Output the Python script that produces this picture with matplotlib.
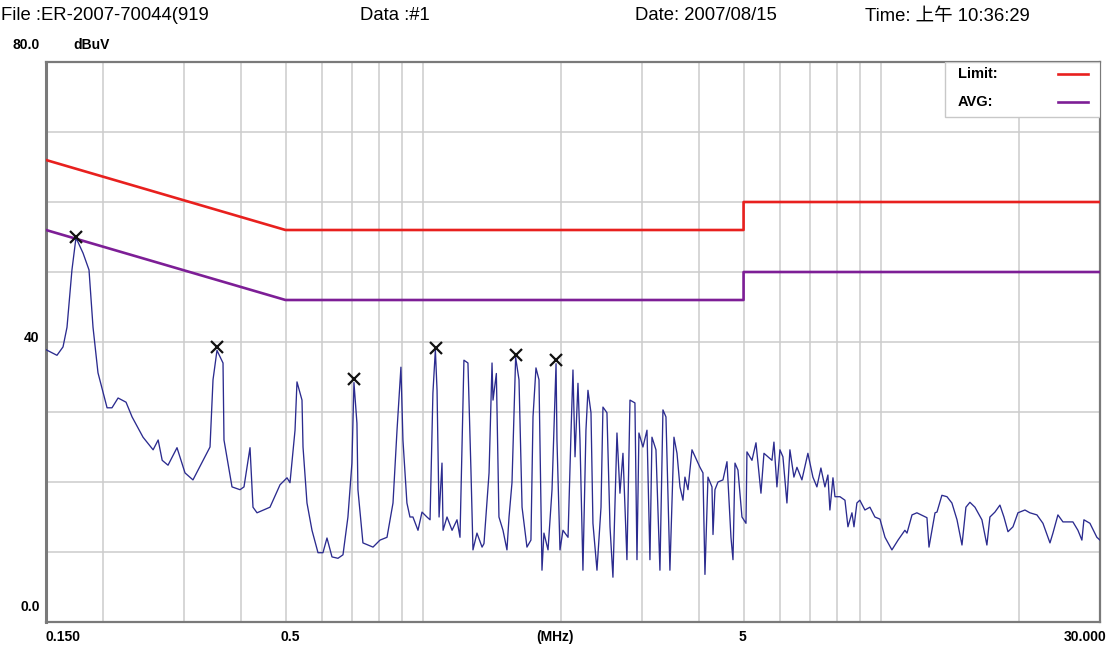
import matplotlib
matplotlib.use("Agg")
import matplotlib.pyplot as plt
from matplotlib.patches import Rectangle

# ---- data ----
limit_freq = [0.15, 0.5, 5.0, 5.0, 30.0]
limit_qp = [66, 56, 56, 60, 60]
limit_avg = [56, 46, 46, 50, 50]

trace_freq = [
    0.150, 0.1585, 0.1634, 0.1667, 0.1709, 0.1744, 0.1807, 0.1862, 0.1900, 0.1948,
    0.2039, 0.2090, 0.2155, 0.2243, 0.2312, 0.2443, 0.2570, 0.2636, 0.2690, 0.2770,
    0.2898, 0.3017, 0.3140, 0.3336, 0.3421, 0.3473, 0.3543, 0.3652, 0.3670, 0.3821,
    0.3978, 0.4058, 0.4183, 0.4246, 0.4333, 0.4625, 0.4864, 0.5038, 0.5114, 0.5245,
    0.5297, 0.5432, 0.5460, 0.5570, 0.5712, 0.5887, 0.6036, 0.6159, 0.6316, 0.6509,
    0.6675, 0.6843, 0.6982, 0.7053, 0.7160, 0.7196, 0.7379, 0.7762, 0.8040, 0.8328,
    0.8583, 0.8758, 0.8932, 0.9023, 0.9205, 0.9346, 0.9488, 0.9732, 0.9930, 1.018,
    1.034, 1.049, 1.062, 1.071, 1.082, 1.098, 1.104, 1.126, 1.155, 1.184,
    1.202, 1.226, 1.251, 1.270, 1.283, 1.309, 1.343, 1.356, 1.391, 1.412,
    1.419, 1.443, 1.462, 1.492, 1.522, 1.538, 1.561, 1.590, 1.617, 1.642,
    1.683, 1.717, 1.735, 1.761, 1.788, 1.815, 1.833, 1.871, 1.909, 1.948,
    1.957, 1.987, 2.017, 2.069, 2.100, 2.121, 2.143, 2.175, 2.197, 2.230,
    2.264, 2.287, 2.322, 2.345, 2.393, 2.442, 2.466, 2.516, 2.555, 2.593,
    2.646, 2.686, 2.727, 2.782, 2.825, 2.896, 2.926, 2.955, 3.015, 3.077,
    3.123, 3.155, 3.219, 3.284, 3.334, 3.385, 3.453, 3.524, 3.578, 3.632,
    3.687, 3.724, 3.781, 3.858, 3.976, 4.016, 4.077, 4.118, 4.181, 4.266,
    4.288, 4.330, 4.397, 4.508, 4.600, 4.693, 4.741, 4.789, 4.861, 4.960,
    5.061, 5.086, 5.216, 5.322, 5.457, 5.540, 5.652, 5.767, 5.825, 5.913,
    6.003, 6.094, 6.218, 6.312, 6.440, 6.539, 6.704, 6.909, 7.085, 7.229,
    7.376, 7.526, 7.640, 7.717, 7.837, 7.916, 8.117, 8.324, 8.450, 8.622,
    8.710, 8.839, 8.970, 9.202, 9.436, 9.676, 9.925, 10.18, 10.54, 10.87,
    11.25, 11.37, 11.66, 11.95, 12.57, 12.70, 13.09, 13.22, 13.55, 13.90,
    14.25, 14.62, 14.99, 15.29, 15.60, 16.00, 16.57, 16.99, 17.25, 17.69,
    18.14, 18.51, 18.89, 19.37, 19.86, 20.57, 21.09, 21.85, 22.52, 23.33,
    23.68, 24.28, 24.90, 26.18, 26.85, 27.39, 27.67, 28.52, 29.53, 30.00,
]
trace_level = [
    38.9, 38.1, 39.3, 42.1, 50.3, 54.9, 52.7, 50.3, 42.1, 35.6,
    30.6, 30.6, 32.0, 31.4, 29.3, 26.4, 24.6, 26.0, 23.1, 22.4,
    24.9, 21.3, 20.3, 23.6, 25.0, 34.6, 38.8, 37.0, 26.0, 19.3,
    18.9, 19.3, 24.9, 16.4, 15.6, 16.4, 19.6, 20.6, 19.9, 27.4,
    34.3, 31.7, 25.0, 17.0, 13.1, 9.9, 9.9, 12.0, 9.3, 9.1,
    9.6, 15.0, 22.7, 34.2, 28.4, 18.9, 11.3, 10.7, 11.7, 12.1,
    17.0, 27.4, 36.4, 26.0, 17.0, 15.0, 15.0, 13.1, 15.7, 15.0,
    14.6, 32.7, 38.9, 33.1, 15.0, 22.7, 13.1, 15.0, 13.1, 14.6,
    12.1, 37.4, 37.0, 21.7, 10.3, 12.7, 10.7, 11.2, 21.3, 37.0,
    31.7, 35.5, 15.0, 13.1, 10.3, 15.0, 19.9, 37.8, 34.6, 16.4,
    10.7, 11.7, 29.3, 36.3, 34.6, 7.4, 12.7, 10.3, 18.9, 36.9,
    26.0, 10.3, 13.1, 12.1, 27.0, 36.0, 23.6, 34.1, 26.0, 7.4,
    27.4, 33.1, 29.9, 14.1, 7.4, 16.4, 30.7, 29.9, 13.6, 6.4,
    27.0, 18.4, 24.1, 8.9, 31.7, 31.3, 8.9, 27.0, 25.0, 27.4,
    8.9, 26.4, 24.6, 7.4, 30.3, 29.3, 7.4, 26.4, 24.1, 19.3,
    17.4, 20.7, 18.9, 24.6, 22.7, 22.1, 21.3, 6.8, 20.7, 19.3,
    12.5, 18.9, 20.0, 20.3, 22.9, 12.1, 8.9, 22.7, 21.7, 15.0,
    14.1, 24.3, 23.1, 25.6, 18.4, 24.1, 23.6, 23.1, 25.7, 19.3,
    24.6, 23.6, 17.0, 24.6, 20.7, 22.1, 20.3, 24.1, 20.7, 19.3,
    22.0, 19.3, 21.0, 16.0, 20.6, 17.9, 17.9, 17.4, 13.6, 15.6,
    13.6, 17.0, 17.4, 16.0, 16.4, 15.0, 14.7, 12.1, 10.3, 11.7,
    13.1, 12.7, 15.3, 15.6, 14.9, 10.7, 15.6, 15.7, 18.1, 17.9,
    17.0, 14.6, 11.0, 16.4, 17.1, 16.4, 14.6, 11.0, 15.0, 15.7,
    16.7, 15.0, 12.9, 13.6, 15.6, 16.0, 15.6, 15.3, 14.1, 11.3,
    12.7, 15.3, 14.3, 14.3, 13.1, 11.7, 14.6, 14.1, 12.1, 11.7,
]

peak_freq = [0.1744, 0.3543, 0.7053, 1.065, 1.596, 1.950]
peak_level = [55.0, 39.3, 34.7, 39.1, 38.1, 37.4]

grid_freq = [0.2, 0.3, 0.4, 0.5, 0.6, 0.7, 0.8, 0.9, 1, 2, 3, 4, 5, 6, 7, 8, 9, 10, 20]
grid_level = [10, 20, 30, 40, 50, 60, 70]

# ---- figure ----
W, H = 1113, 648
fig = plt.figure(figsize=(W / 100, H / 100), dpi=100)
L, R, T, B = 46, 1100, 62, 622
ax = fig.add_axes([L / W, 1 - B / H, (R - L) / W, (B - T) / H])

def fx(px):
    return px / W

def fy(py):
    return 1 - py / H

ax.set_xscale("log")
ax.set_xlim(0.15, 30)
ax.set_ylim(0, 80)
ax.set_xticks([])
ax.set_yticks([])
ax.minorticks_off()
for f in grid_freq:
    ax.axvline(f, color="#cccccc", lw=1.1, zorder=0)
for lv in grid_level:
    ax.axhline(lv, color="#cccccc", lw=1.1, zorder=0)
for s in ax.spines.values():
    s.set_color("#7a7a7a")
    s.set_linewidth(1.6)
ax.spines["left"].set_linewidth(2.2)

ax.plot(limit_freq, limit_qp, color="#e8201e", lw=1.9, zorder=3)
ax.plot(limit_freq, limit_avg, color="#7d1e96", lw=1.9, zorder=3)
ax.plot(trace_freq, trace_level, color="#2b2b8f", lw=0.95, zorder=4)
ax.plot(peak_freq, peak_level, "x", color="#111111", ms=8, mew=1.6, zorder=5)

# legend box
lx0 = (945 - L) / (R - L)
ly0 = (B - 117) / (B - T)
ax.add_patch(Rectangle((lx0, ly0), 1 - lx0, 1 - ly0, transform=ax.transAxes,
                       facecolor="white", edgecolor="#c8c8c8", lw=1.0, zorder=6))
narrow = ["Liberation Sans Narrow", "Liberation Sans", "DejaVu Sans"]
for name, col, py in (("Limit:", "#e8201e", 74), ("AVG:", "#7d1e96", 102)):
    yy = (B - py) / (B - T)
    ax.text((958 - L) / (R - L), yy, name, transform=ax.transAxes, ha="left",
            va="center", fontsize=10.5, fontweight="bold", family=narrow, zorder=7)
    ax.plot([(1058 - L) / (R - L), (1088 - L) / (R - L)], [yy, yy],
            transform=ax.transAxes, color=col, lw=1.9, zorder=7)

# header
head = ["Liberation Sans", "Noto Sans CJK SC", "DejaVu Sans"]
hs = 13.3
fig.text(fx(1), fy(16), "File :ER-2007-70044(919", ha="left", va="center",
         fontsize=hs, family=head)
fig.text(fx(360), fy(16), "Data :#1", ha="left", va="center", fontsize=hs, family=head)
fig.text(fx(635), fy(16), "Date: 2007/08/15", ha="left", va="center",
         fontsize=hs, family=head)
fig.text(fx(865), fy(16), "Time: 上午 10:36:29", ha="left", va="center",
         fontsize=hs, family=head)

# axis labels
lab = dict(fontsize=10, fontweight="bold", family=narrow)
fig.text(fx(40), fy(45), "80.0", ha="right", va="center", **lab)
fig.text(fx(73), fy(45), "dBuV", ha="left", va="center", **lab)
fig.text(fx(39), fy(338), "40", ha="right", va="center", **lab)
fig.text(fx(40), fy(607), "0.0", ha="right", va="center", **lab)
fig.text(fx(45), fy(637), "0.150", ha="left", va="center", **lab)
fig.text(fx(290), fy(637), "0.5", ha="center", va="center", **lab)
fig.text(fx(555), fy(637), "(MHz)", ha="center", va="center", **lab)
fig.text(fx(742), fy(637), "5", ha="center", va="center", **lab)
fig.text(fx(1106), fy(637), "30.000", ha="right", va="center", **lab)

fig.savefig("out.png", dpi=100)
